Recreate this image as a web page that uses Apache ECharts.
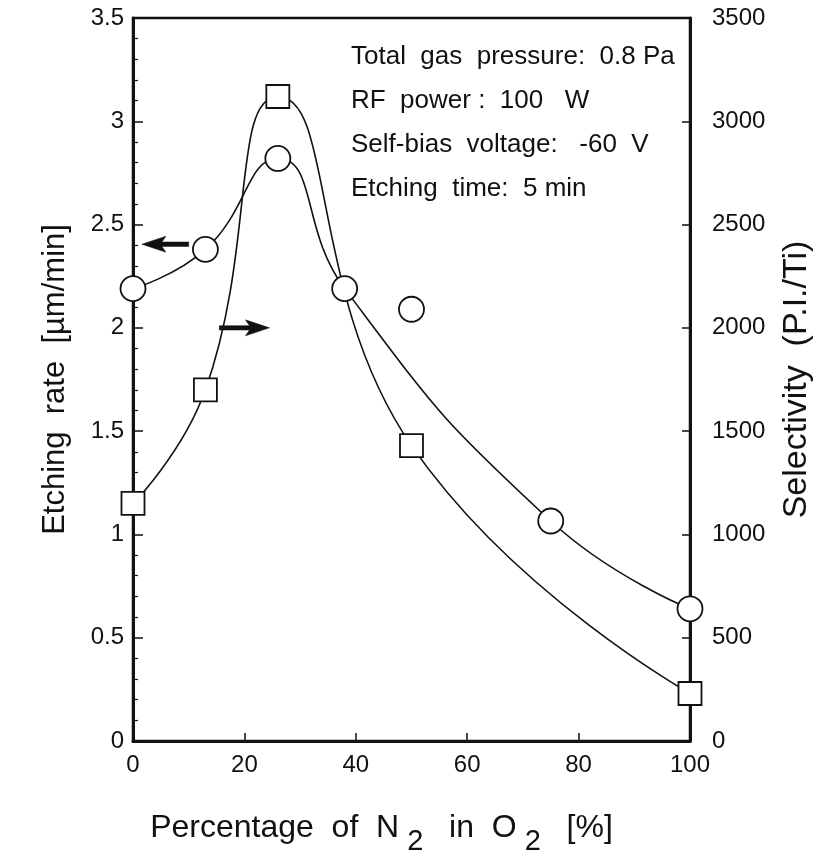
<!DOCTYPE html>
<html>
<head>
<meta charset="utf-8">
<script src="https://cdn.jsdelivr.net/npm/echarts@6/dist/echarts.min.js"></script>
<style>
html,body{margin:0;padding:0;background:#fff;}
#chart{width:840px;height:868px;}
</style>
</head>
<body>
<div id="chart"></div>
<script>
// ---- data ----
var circlePct = [0, 13, 26, 38, 50, 75, 100];
var etchingRate = [2.19, 2.38, 2.82, 2.19, 2.09, 1.065, 0.64];   // left axis, µm/min
var circleFitSkip = [50];                                         // point not on the drawn fit curve
var squarePct = [0, 13, 26, 50, 100];
var selectivity = [1150, 1700, 3120, 1430, 230];                  // right axis, P.I./Ti
var xTicks = [0, 20, 40, 60, 80, 100];
var leftTicks = [0, 0.5, 1, 1.5, 2, 2.5, 3, 3.5];
var rightTicks = [0, 500, 1000, 1500, 2000, 2500, 3000, 3500];
var notes = ['Total  gas  pressure:  0.8 Pa', 'RF  power :  100   W', 'Self-bias  voltage:   -60  V', 'Etching  time:  5 min'];
// arrows in left-axis data units: [xTail, yTail, xTip, yTip]
var arrows = [[10, 2.405, 1.6, 2.405], [15.5, 2.0, 24.5, 2.0]];

// ---- build ----
var FONT = '"Liberation Sans", Arial, Helvetica, sans-serif';
var ink = '#111';
function pairs(xs, ys) { return xs.map(function (x, i) { return [x, ys[i]]; }); }
var circlePts = pairs(circlePct, etchingRate);
var circleFit = circlePts.filter(function (p) { return circleFitSkip.indexOf(p[0]) < 0; });
var squarePts = pairs(squarePct, selectivity);

var chart = echarts.init(document.getElementById('chart'), null, {renderer: 'canvas'});
var axisLabelStyle = {color: ink, fontFamily: FONT, fontSize: 24};

function renderArrow(params, api) {
  var a = api.coord([api.value(0), api.value(1)]);
  var b = api.coord([api.value(2), api.value(3)]);
  var dx = b[0] - a[0], dy = b[1] - a[1];
  var len = Math.sqrt(dx * dx + dy * dy);
  var ux = dx / len, uy = dy / len, nx = -uy, ny = ux;
  var headLen = 20, headHalf = 8, shaft = 2.2;
  var bx = b[0] - ux * headLen, by = b[1] - uy * headLen;
  return {
    type: 'polygon',
    shape: {points: [
      [a[0] + nx * shaft, a[1] + ny * shaft],
      [bx + nx * shaft, by + ny * shaft],
      [bx + nx * headHalf - ux * 4, by + ny * headHalf - uy * 4],
      [b[0], b[1]],
      [bx - nx * headHalf - ux * 4, by - ny * headHalf - uy * 4],
      [bx - nx * shaft, by - ny * shaft],
      [a[0] - nx * shaft, a[1] - ny * shaft]
    ]},
    style: {fill: ink, stroke: ink, lineWidth: 0.5}
  };
}

chart.setOption({
  animation: false,
  backgroundColor: '#fff',
  grid: {left: 133, right: 150, top: 18, bottom: 127, show: true, borderColor: ink, borderWidth: 2.5, containLabel: false},
  title: {
    text: notes.join('\n'), left: 346, top: 30,
    textStyle: {color: ink, fontFamily: FONT, fontSize: 26, fontWeight: 'normal', lineHeight: 44}
  },
  xAxis: {
    type: 'value', min: xTicks[0], max: xTicks[xTicks.length - 1], interval: xTicks[1] - xTicks[0],
    axisLine: {show: true, lineStyle: {color: ink, width: 3}},
    axisTick: {show: true, inside: true, length: 8, lineStyle: {color: ink, width: 1.5}},
    splitLine: {show: false},
    axisLabel: Object.assign({margin: 12}, axisLabelStyle),
    name: 'Percentage  of  N{s|2}  in  O{s|2}  [%]',
    nameLocation: 'middle', nameGap: 60,
    nameTextStyle: {color: ink, fontFamily: FONT, fontSize: 32, padding: [0, 60, 0, 0], verticalAlign: 'top',
      rich: {s: {fontFamily: FONT, fontSize: 29, color: ink, padding: [26, 8, 0, 8], verticalAlign: 'top'}}}
  },
  yAxis: [{
    type: 'value', position: 'left', min: leftTicks[0], max: leftTicks[leftTicks.length - 1], interval: leftTicks[1] - leftTicks[0],
    axisLine: {show: true, lineStyle: {color: ink, width: 3}},
    axisTick: {show: true, inside: true, length: 10, lineStyle: {color: ink, width: 1.5}},
    minorTick: {show: true, splitNumber: 5, length: 5, lineStyle: {color: ink, width: 1.2}},
    splitLine: {show: false},
    axisLabel: Object.assign({margin: 9}, axisLabelStyle),
    name: 'Etching  rate  [\u00b5m/min]', nameLocation: 'middle', nameGap: 62, nameRotate: 90,
    nameTextStyle: {color: ink, fontFamily: FONT, fontSize: 31}
  }, {
    type: 'value', position: 'right', min: rightTicks[0], max: rightTicks[rightTicks.length - 1], interval: rightTicks[1] - rightTicks[0],
    axisLine: {show: true, lineStyle: {color: ink, width: 3}},
    axisTick: {show: true, inside: true, length: 8, lineStyle: {color: ink, width: 1.5}},
    splitLine: {show: false},
    axisLabel: Object.assign({margin: 22, formatter: function (v) { return String(v); }}, axisLabelStyle),
    name: 'Selectivity  (P.I./Ti)', nameLocation: 'middle', nameGap: 90, nameRotate: 90,
    nameTextStyle: {color: ink, fontFamily: FONT, fontSize: 34}
  }],
  series: [{
    name: 'rate fit', type: 'line', yAxisIndex: 0, data: circleFit, smooth: 0.5, symbol: 'none',
    lineStyle: {color: ink, width: 1.6}, z: 2
  }, {
    name: 'selectivity fit', type: 'line', yAxisIndex: 1, data: squarePts, smooth: 0.5, symbol: 'none',
    lineStyle: {color: ink, width: 1.6}, z: 2
  }, {
    name: 'Etching rate', type: 'scatter', yAxisIndex: 0, data: circlePts, symbol: 'circle', symbolSize: 25,
    itemStyle: {color: '#fff', borderColor: ink, borderWidth: 1.8, opacity: 1}, z: 5
  }, {
    name: 'Selectivity', type: 'scatter', yAxisIndex: 1, data: squarePts, symbol: 'rect', symbolSize: 23,
    itemStyle: {color: '#fff', borderColor: ink, borderWidth: 1.8, opacity: 1}, z: 5
  }, {
    name: 'arrows', type: 'custom', yAxisIndex: 0, data: arrows, renderItem: renderArrow,
    encode: {x: [0, 2], y: [1, 3]}, z: 6, silent: true
  }]
});
</script>
</body>
</html>
